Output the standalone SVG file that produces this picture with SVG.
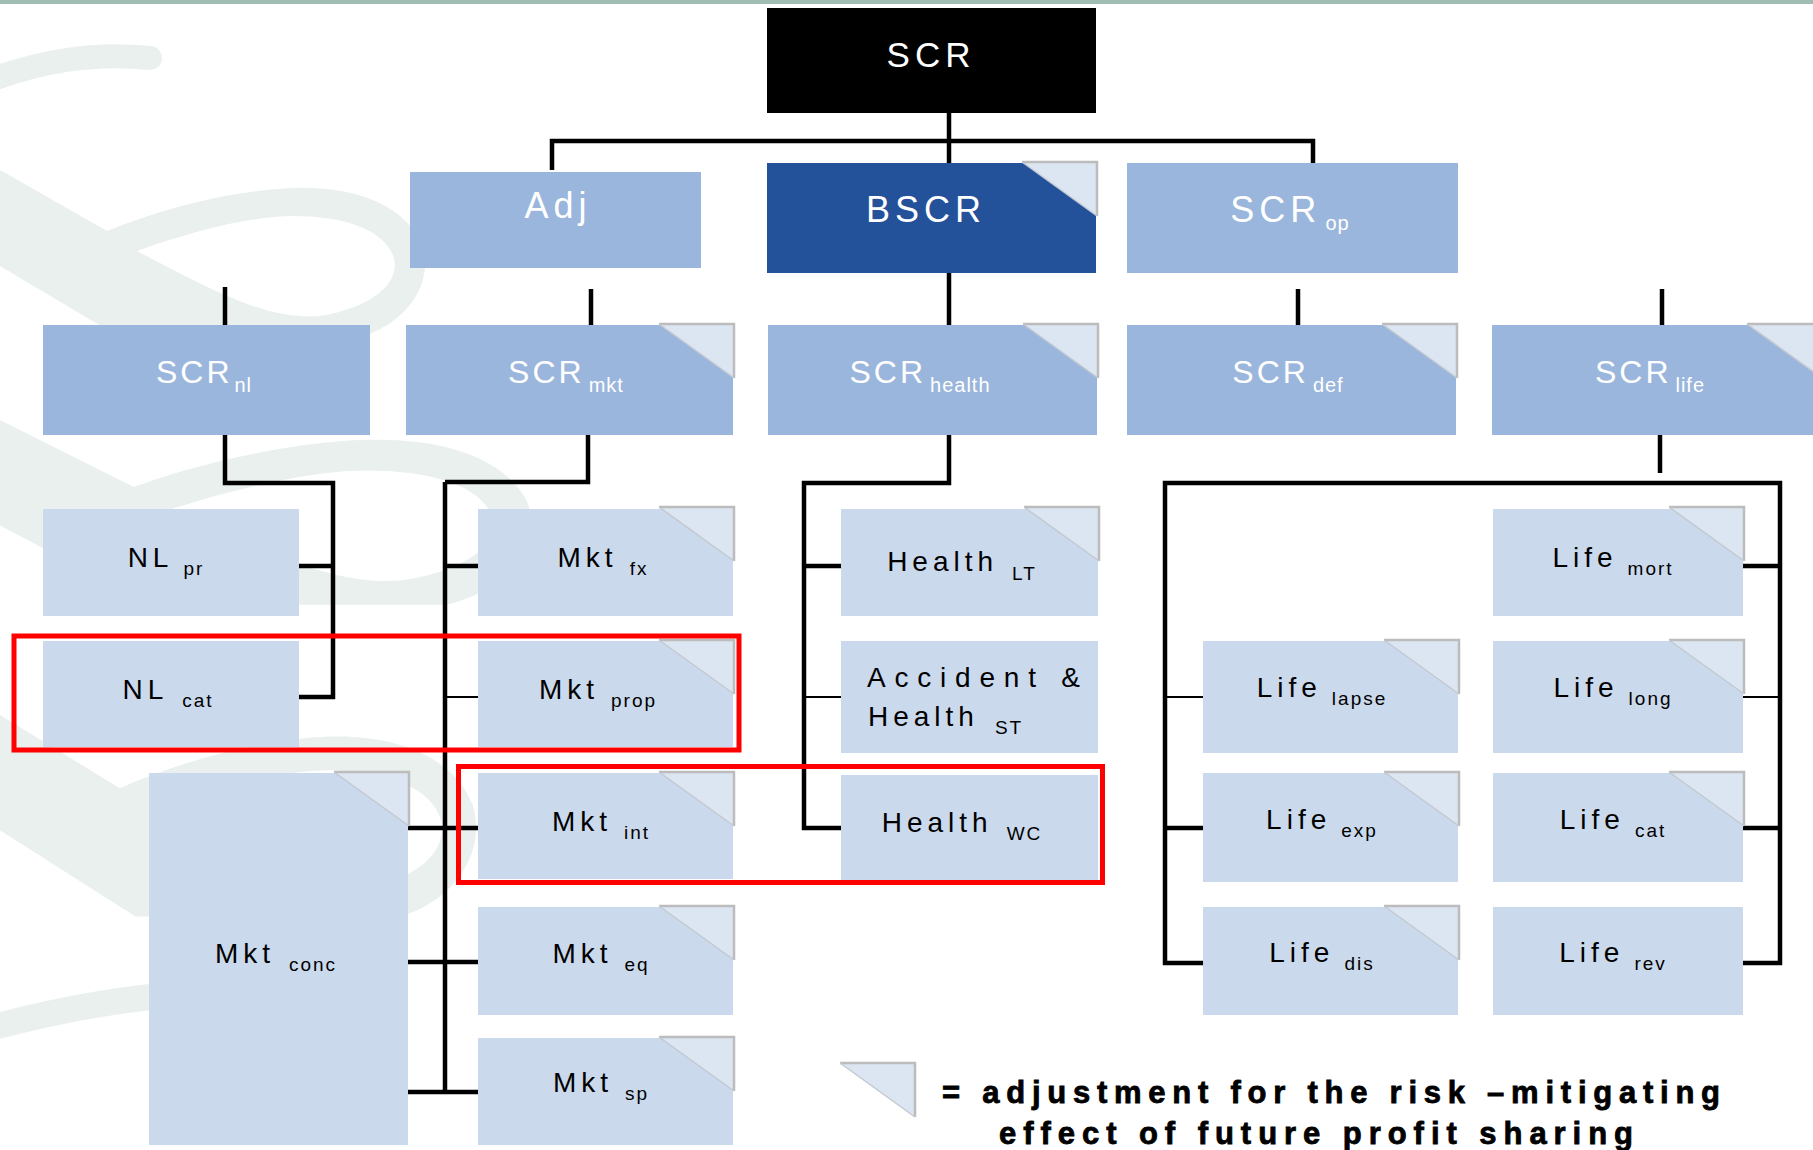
<svg xmlns="http://www.w3.org/2000/svg" xmlns:xlink="http://www.w3.org/1999/xlink" width="1813" height="1150" viewBox="0 0 1813 1150">
<style>
.bg{fill:#ffffff}
.wm{fill:none;stroke:#e9f0ed;stroke-linecap:round}
.wmf{fill:#e9f0ed;fill-rule:evenodd}
.dark{fill:#23529b}
.mid{fill:#9bb6dc}
.lt{fill:#cbd9ec}
.blk{fill:#000000}
.w{fill:#ffffff;font-family:"Liberation Sans",Arial,sans-serif}
.b{fill:#000000;font-family:"Liberation Sans",Arial,sans-serif}
.h1{font-size:36px;letter-spacing:5px}
.h2{font-size:32px;letter-spacing:3px}
.h3{font-size:28px;letter-spacing:5px}
.s2{font-size:20px;letter-spacing:1px}
.s3{font-size:19px;letter-spacing:2px}
.con{fill:none;stroke:#000;stroke-width:4.5;stroke-linejoin:miter}
.thin{fill:none;stroke:#000;stroke-width:2}
.red{fill:none;stroke:#ff0000;stroke-width:5}
.leg{fill:#000;stroke:#000;stroke-width:0.8;font-family:"Liberation Sans",Arial,sans-serif;font-weight:bold;font-size:31px}
</style>
<defs>
<g id="tri">
<polygon points="-74,-1 1,-1 1,53" fill="#dce6f3"/>
<polyline points="-74,-1 1,-1 1,53" fill="none" stroke="#bcbcbc" stroke-width="2.5"/>
<line x1="-74" y1="-1" x2="1" y2="53" stroke="#c3c9d1" stroke-width="1.5"/>
</g>
<path id="loop" class="wmf" d="M 0 0 L 107 61 C 170 35, 240 20, 293 18 C 355 16, 405 35, 422 75 C 435 115, 405 155, 357 168 L 121 168 L 0 96 Z M 137 81 C 190 62, 250 46, 293 46 C 345 46, 385 60, 394 88 C 400 115, 370 138, 320 146 C 270 150, 220 125, 137 81 Z"/>
</defs>
<rect class="bg" x="0" y="0" width="1813" height="1150"/>
<rect x="0" y="0" width="1813" height="4" fill="#a0bdb4"/>

<g id="watermark">
<path class="wm" stroke-width="24" d="M -10 80 C 40 62, 90 52, 150 58"/>
<use xlink:href="#loop" transform="translate(0,170)"/>
<use xlink:href="#loop" transform="translate(0,420) scale(1.25,1.1)"/>
<use xlink:href="#loop" transform="translate(0,715) scale(1.12,1.2)"/>
<path class="wm" stroke-width="26" d="M -10 1028 C 50 1012, 100 1002, 160 996"/>
</g>

<g id="connectors">
<path class="con" d="M 949 113 V 165"/>
<path class="con" d="M 552 170 V 141 H 1313 V 165"/>
<path class="con" d="M 225 287 V 325"/>
<path class="con" d="M 591 289 V 325"/>
<path class="con" d="M 949 273 V 325"/>
<path class="con" d="M 1298 289 V 325"/>
<path class="con" d="M 1662 289 V 325"/>
<path class="con" d="M 225 435 V 483 H 333 V 697 H 298"/>
<path class="con" d="M 298 566 H 333"/>
<path class="con" d="M 588 435 V 482 H 445"/>
<path class="con" d="M 445 482 V 1092"/>
<path class="con" d="M 445 566 H 478"/>
<path class="thin" d="M 445 697 H 478"/>
<path class="con" d="M 408 828 H 478"/>
<path class="con" d="M 408 962 H 478"/>
<path class="con" d="M 408 1092 H 478"/>
<path class="con" d="M 949 435 V 483 H 804 V 828 H 841"/>
<path class="con" d="M 804 566 H 841"/>
<path class="thin" d="M 804 697 H 841"/>
<path class="con" d="M 1660 435 V 473"/>
<path class="con" d="M 1203 963 H 1165 V 483 H 1780 V 963 H 1743"/>
<path class="thin" d="M 1165 697 H 1203"/>
<path class="con" d="M 1165 828 H 1203"/>
<path class="con" d="M 1743 566 H 1780"/>
<path class="thin" d="M 1743 697 H 1780"/>
<path class="con" d="M 1743 828 H 1780"/>
</g>

<g id="n-scr"><rect class="blk" x="767" y="8" width="329" height="105"/><text class="w" x="931" y="67" font-size="35" letter-spacing="5" text-anchor="middle">SCR</text></g>
<g id="n-adj"><rect class="mid" x="410" y="172" width="291" height="96"/><text class="w h1" x="558" y="218" text-anchor="middle">Adj</text></g>
<g id="n-bscr"><rect class="dark" x="767" y="163" width="329" height="110"/><use xlink:href="#tri" x="1096" y="163"/><text class="w h1" x="926" y="222" text-anchor="middle" letter-spacing="6">BSCR</text></g>
<g id="n-scrop"><rect class="mid" x="1127" y="163" width="331" height="110"/><text class="w h1" x="1290" y="222" text-anchor="middle">SCR<tspan class="s2" dx="4" dy="8">op</tspan></text></g>

<g id="n-scrnl"><rect class="mid" x="43" y="325" width="327" height="110"/><text class="w h2" x="204" y="383" text-anchor="middle">SCR<tspan class="s2" dx="2" dy="9">nl</tspan></text></g>
<g id="n-scrmkt"><rect class="mid" x="406" y="325" width="327" height="110"/><use xlink:href="#tri" x="733" y="325"/><text class="w h2" x="566" y="383" text-anchor="middle">SCR<tspan class="s2" dx="4" dy="9">mkt</tspan></text></g>
<g id="n-scrhealth"><rect class="mid" x="768" y="325" width="329" height="110"/><use xlink:href="#tri" x="1097" y="325"/><text class="w h2" x="920" y="383" text-anchor="middle">SCR<tspan class="s2" dx="4" dy="9">health</tspan></text></g>
<g id="n-scrdef"><rect class="mid" x="1127" y="325" width="329" height="110"/><use xlink:href="#tri" x="1456" y="325"/><text class="w h2" x="1288" y="383" text-anchor="middle">SCR<tspan class="s2" dx="4" dy="9">def</tspan></text></g>
<g id="n-scrlife"><rect class="mid" x="1492" y="325" width="329" height="110"/><use xlink:href="#tri" x="1821" y="325"/><text class="w h2" x="1650" y="383" text-anchor="middle">SCR<tspan class="s2" dx="4" dy="9">life</tspan></text></g>

<g id="n-nlpr"><rect class="lt" x="43" y="509" width="256" height="107"/><text class="b h3" x="166" y="567" text-anchor="middle">NL<tspan class="s3" dx="10" dy="8">pr</tspan></text></g>
<g id="n-nlcat"><rect class="lt" x="43" y="641" width="256" height="106"/><text class="b h3" x="168" y="699" text-anchor="middle">NL<tspan class="s3" dx="14" dy="8">cat</tspan></text></g>

<g id="n-mktfx"><rect class="lt" x="478" y="509" width="255" height="107"/><use xlink:href="#tri" x="733" y="508"/><text class="b h3" x="603" y="567" text-anchor="middle">Mkt<tspan class="s3" dx="12" dy="8">fx</tspan></text></g>
<g id="n-mktprop"><rect class="lt" x="478" y="641" width="255" height="106"/><use xlink:href="#tri" x="733" y="641"/><text class="b h3" x="598" y="699" text-anchor="middle">Mkt<tspan class="s3" dx="12" dy="8">prop</tspan></text></g>
<g id="n-mktint"><rect class="lt" x="478" y="773" width="255" height="106"/><use xlink:href="#tri" x="733" y="773"/><text class="b h3" x="601" y="831" text-anchor="middle">Mkt<tspan class="s3" dx="12" dy="8">int</tspan></text></g>
<g id="n-mkteq"><rect class="lt" x="478" y="907" width="255" height="108"/><use xlink:href="#tri" x="733" y="907"/><text class="b h3" x="601" y="963" text-anchor="middle">Mkt<tspan class="s3" dx="12" dy="8">eq</tspan></text></g>
<g id="n-mktsp"><rect class="lt" x="478" y="1038" width="255" height="107"/><use xlink:href="#tri" x="733" y="1038"/><text class="b h3" x="601" y="1092" text-anchor="middle">Mkt<tspan class="s3" dx="12" dy="8">sp</tspan></text></g>
<g id="n-mktconc"><rect class="lt" x="149" y="773" width="259" height="372"/><use xlink:href="#tri" x="408" y="773"/><text class="b h3" x="276" y="963" text-anchor="middle">Mkt<tspan class="s3" dx="14" dy="8">conc</tspan></text></g>

<g id="n-healthlt"><rect class="lt" x="841" y="509" width="257" height="107"/><use xlink:href="#tri" x="1098" y="508"/><text class="b h3" x="962" y="571" text-anchor="middle">Health<tspan class="s3" dx="14" dy="9">LT</tspan></text></g>
<g id="n-accst"><rect class="lt" x="841" y="641" width="257" height="112"/><text class="b h3" x="867" y="687" textLength="218" lengthAdjust="spacing">Accident &amp;</text><text class="b h3" x="868" y="726">Health<tspan class="s3" dx="16" dy="8">ST</tspan></text></g>
<g id="n-healthwc"><rect class="lt" x="841" y="775" width="257" height="106"/><text class="b h3" x="962" y="832" text-anchor="middle">Health<tspan class="s3" dx="14" dy="8">WC</tspan></text></g>

<g id="n-lifemort"><rect class="lt" x="1493" y="509" width="250" height="107"/><use xlink:href="#tri" x="1743" y="508"/><text class="b h3" x="1613" y="567" text-anchor="middle">Life<tspan class="s3" dx="10" dy="8">mort</tspan></text></g>
<g id="n-lifelapse"><rect class="lt" x="1203" y="641" width="255" height="112"/><use xlink:href="#tri" x="1458" y="641"/><text class="b h3" x="1322" y="697" text-anchor="middle">Life<tspan class="s3" dx="10" dy="8">lapse</tspan></text></g>
<g id="n-lifelong"><rect class="lt" x="1493" y="641" width="250" height="112"/><use xlink:href="#tri" x="1743" y="641"/><text class="b h3" x="1613" y="697" text-anchor="middle">Life<tspan class="s3" dx="10" dy="8">long</tspan></text></g>
<g id="n-lifeexp"><rect class="lt" x="1203" y="773" width="255" height="109"/><use xlink:href="#tri" x="1458" y="773"/><text class="b h3" x="1322" y="829" text-anchor="middle">Life<tspan class="s3" dx="10" dy="8">exp</tspan></text></g>
<g id="n-lifecat"><rect class="lt" x="1493" y="773" width="250" height="109"/><use xlink:href="#tri" x="1743" y="773"/><text class="b h3" x="1613" y="829" text-anchor="middle">Life<tspan class="s3" dx="10" dy="8">cat</tspan></text></g>
<g id="n-lifedis"><rect class="lt" x="1203" y="907" width="255" height="108"/><use xlink:href="#tri" x="1458" y="907"/><text class="b h3" x="1322" y="962" text-anchor="middle">Life<tspan class="s3" dx="10" dy="8">dis</tspan></text></g>
<g id="n-liferev"><rect class="lt" x="1493" y="907" width="250" height="108"/><text class="b h3" x="1613" y="962" text-anchor="middle">Life<tspan class="s3" dx="10" dy="8">rev</tspan></text></g>

<g id="highlights">
<rect class="red" x="14" y="636" width="725" height="114"/>
<rect class="red" x="458.5" y="766.5" width="644" height="116"/>
</g>

<g id="legend">
<use xlink:href="#tri" x="914" y="1064"/>
<text class="leg" x="942" y="1103" textLength="778" lengthAdjust="spacing">= adjustment  for  the  risk –mitigating</text>
<text class="leg" x="999" y="1144" textLength="634" lengthAdjust="spacing">effect  of  future  profit  sharing</text>
</g>
</svg>
